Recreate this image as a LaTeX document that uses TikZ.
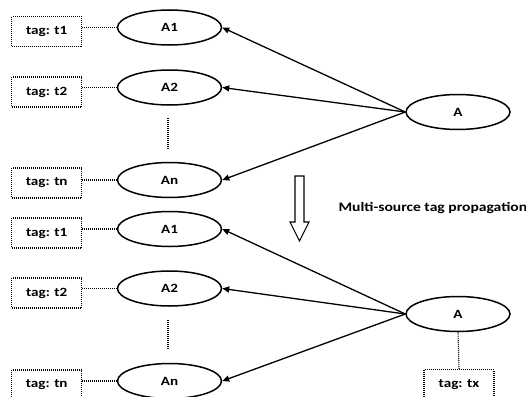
\documentclass[tikz,border=0pt]{standalone}
\usepackage{fontspec}
\setmainfont{Carlito}[FakeStretch=1.2]
\usetikzlibrary{shapes.geometric,arrows.meta}
\tikzset{
  lbl/.style={font=\bfseries\fontsize{12.6}{14}\selectfont},
  ell/.style={lbl, draw, line width=1.5pt, ellipse, minimum width=104pt, minimum height=35pt, inner sep=0pt},
  tagbox/.style={lbl, draw, line width=1.1pt, dash pattern=on 1pt off 1pt, minimum width=70pt, minimum height=30pt, inner sep=0pt},
  tagline/.style={line width=1.1pt, dash pattern=on 1pt off 1pt},
  vdots/.style={line width=1.6pt, dash pattern=on 1pt off 1pt},
  edge/.style={line width=1.3pt, -{Triangle[length=7pt,width=6pt]}},
  bigarrow/.style={draw, line width=1.1pt, fill=white}
}
\begin{document}
\begin{tikzpicture}[x=1pt, y=-1pt]
\useasboundingbox (0,0) rectangle (526,396);
\clip (0,0) rectangle (526,396);
% ---------- top ----------
\node[ell] (tA1) at (169.5,27.5) {A1};
\node[ell] (tA2) at (169.5,87.5) {A2};
\node[ell] (tAn) at (169.5,180) {An};
\node[ell] (tA) at (458,112) {A};
\node[tagbox] (tt1) at (46.7,31.7) {tag: t1};
\node[tagbox] (tt2) at (46.7,92) {tag: t2};
\node[tagbox] (ttn) at (46.7,183) {tag: tn};
\draw[tagline] (tA1.west) -- (tA1.west -| tt1.east);
\draw[tagline] (tA2.west) -- (tA2.west -| tt2.east);
\draw[tagline] (tAn.west) -- (tAn.west -| ttn.east);
\coordinate (td1) at (168,118);
\coordinate (td2) at (168,150);
\draw[vdots] (td1) -- (td2);
\draw[edge] (tA.west) -- (tA1.east);
\draw[edge] (tA.west) -- (tA2.east);
\draw[edge] (tA.west) -- (tAn.east);
% ---------- hollow arrow ----------
\draw[bigarrow] (295,176) -- (304,176) -- (304,222) -- (309,222) -- (299.5,241) -- (290,222) -- (295,222) -- cycle;
\node[anchor=west, font=\bfseries\fontsize{13}{14}\selectfont] (cap) at (335,208.5) {Multi-source tag propagation};
% ---------- bottom ----------
\node[ell] (bA1) at (169.5,229) {A1};
\node[ell] (bA2) at (169.5,288.5) {A2};
\node[ell] (bAn) at (169.5,381) {An};
\node[ell] (bA) at (458,314) {A};
\node[tagbox] (bt1) at (46.7,233) {tag: t1};
\node[tagbox] (bt2) at (46.7,293) {tag: t2};
\node[tagbox] (btn) at (46.7,385) {tag: tn};
\node[tagbox] (btx) at (459,384.5) {tag: tx};
\draw[tagline] (bA1.west) -- (bA1.west -| bt1.east);
\draw[tagline] (bA2.west) -- (bA2.west -| bt2.east);
\draw[tagline] (bAn.west) -- (bAn.west -| btn.east);
\draw[tagline] (bA.south) -- (btx.north);
\coordinate (bd1) at (168,320);
\coordinate (bd2) at (168,350);
\draw[vdots] (bd1) -- (bd2);
\draw[edge] (bA.west) -- (bA1.east);
\draw[edge] (bA.west) -- (bA2.east);
\draw[edge] (bA.west) -- (bAn.east);
\end{tikzpicture}
\end{document}
